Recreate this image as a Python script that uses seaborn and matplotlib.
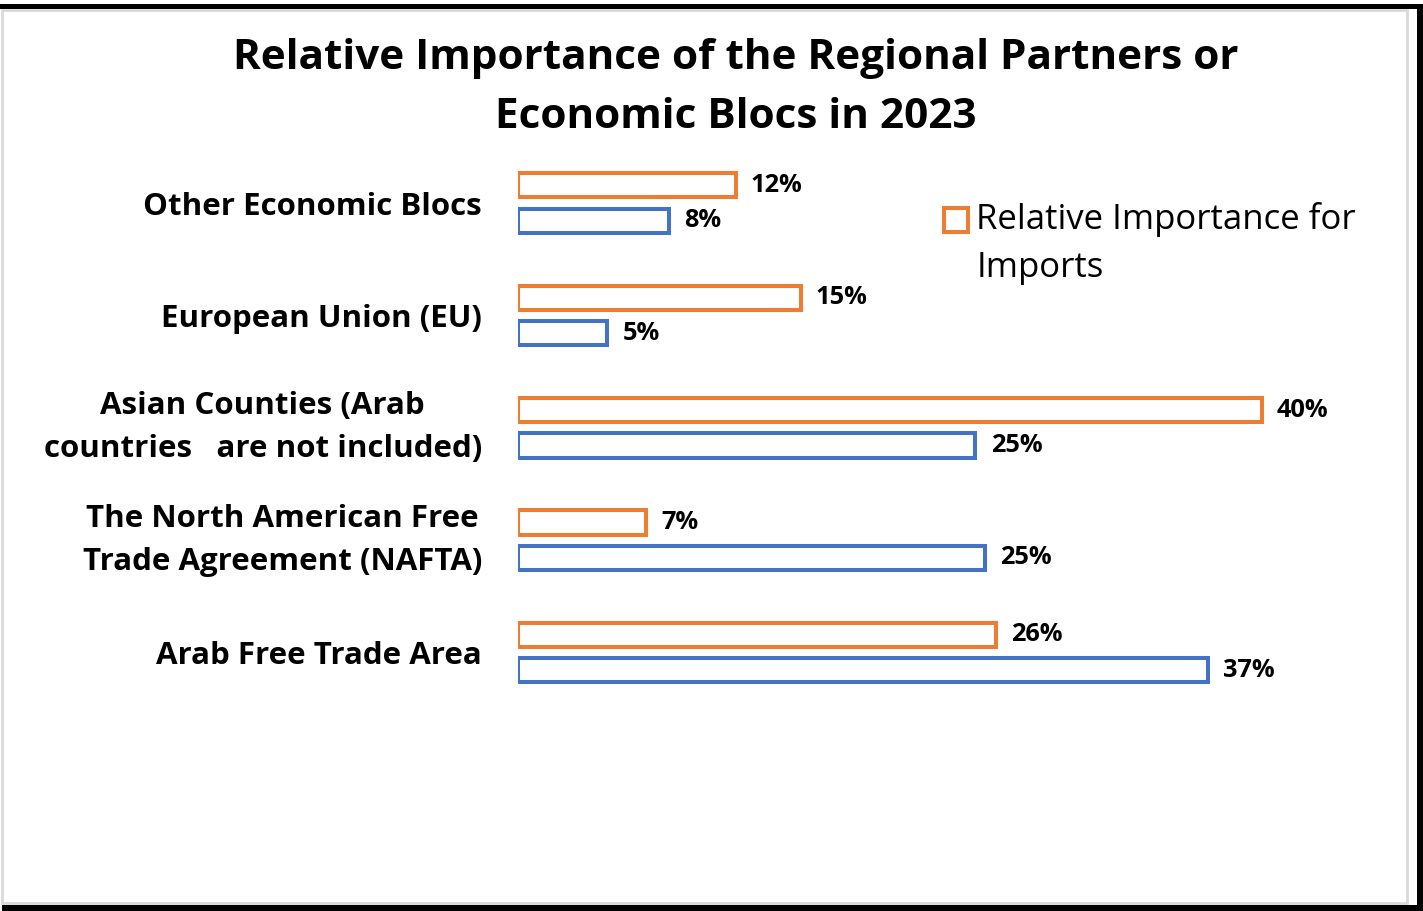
import matplotlib
matplotlib.use('Agg')
from matplotlib import pyplot as plt
from matplotlib.patches import Rectangle
from matplotlib.legend_handler import HandlerPatch
import seaborn as sns
import pandas as pd

# Data (% shares)
categories = [
    'Other Economic Blocs',
    'European Union (EU)',
    'Asian Counties (Arab\ncountries   are not included)',
    'The North American Free\nTrade Agreement (NAFTA)',
    'Arab Free Trade Area',
]
imports = [11.7, 15.2, 40.0, 6.9, 25.7]
exports = [8.1, 4.8, 24.6, 25.1, 37.1]
series = ['Relative Importance for Imports', 'Relative Importance for Exports']
colors = ['#ED7D31', '#4472C4']

df = pd.DataFrame({
    'region': categories * 2,
    'share': imports + exports,
    'series': [series[0]] * len(categories) + [series[1]] * len(categories),
})

sns.set_theme(style='white')
plt.rcParams['font.family'] = ['Open Sans', 'DejaVu Sans']
plt.rcParams['text.color'] = 'black'

W, H = 1423, 911
fig = plt.figure(figsize=(W / 100, H / 100), dpi=100)
fig.patch.set_facecolor('white')

# Outer frame: light gray border plus black shadow lines
fig.add_artist(Rectangle((2 / W, 1 - 903 / H), 1405 / W, 893 / H, transform=fig.transFigure,
                         facecolor='none', edgecolor='#D9D9D9', linewidth=2))
fig.add_artist(Rectangle((0, 1 - 9 / H), 1, 5 / H, transform=fig.transFigure,
                         facecolor='black', edgecolor='none'))
fig.add_artist(Rectangle((1417 / W, 0), 6 / W, 1 - 4 / H, transform=fig.transFigure,
                         facecolor='black', edgecolor='none'))
fig.add_artist(Rectangle((2 / W, 0), 1 - 2 / W, 6 / H, transform=fig.transFigure,
                         facecolor='black', edgecolor='none'))

ax = fig.add_axes([518 / W, 1 - 780 / H, 874 / W, 620 / H])
ax.patch.set_alpha(0)

sns.barplot(data=df, y='region', x='share', hue='series', order=categories,
            hue_order=series, palette=colors, fill=False, width=0.63, gap=0.32,
            linewidth=2.9, errorbar=None, legend=False, ax=ax)

for cont in ax.containers:
    ax.bar_label(cont, labels=[f'{w:.0f}%' for w in cont.datavalues],
                 padding=11, fontsize=18.3, fontweight='bold', color='black')

ax.set_xlim(0, 47)
ax.set_ylim(5.134, -0.383)
ax.set_xlabel('')
ax.set_ylabel('')
ax.set_xticks([])
for s in ax.spines.values():
    s.set_visible(False)
ax.tick_params(axis='y', length=0, pad=26)
for t in ax.get_yticklabels():
    t.set_fontsize(22.5)
    t.set_fontweight('bold')
    t.set_color('black')
    t.set_multialignment('center')
    t.set_linespacing(1.55)
    if '\n' in t.get_text():
        t.set_verticalalignment('center')


# Legend shows only the imports series; marker sits next to the first text line
def first_line_box(legend, orig_handle, xdescent, ydescent, width, height, fontsize):
    return Rectangle((-xdescent, -ydescent + 17.6), width, height)


handle = Rectangle((0, 0), 1, 1, facecolor='none', edgecolor=colors[0], linewidth=2.9)
leg = fig.legend([handle], ['Relative Importance for\nImports'], loc='upper left',
                 bbox_to_anchor=(944 / W, 1 - 202 / H), frameon=False, fontsize=25,
                 handlelength=0.7, handleheight=0.7, handletextpad=0.23, borderpad=0,
                 borderaxespad=0,
                 handler_map={Rectangle: HandlerPatch(patch_func=first_line_box)})
for t in leg.get_texts():
    t.set_linespacing(1.55)

fig.text(736 / W, 1 - 88 / H,
         'Relative Importance of the Regional Partners or\nEconomic Blocs in 2023',
         ha='center', va='center', fontsize=30.4, fontweight='bold', linespacing=1.55)

fig.savefig('out.png', dpi=100)
